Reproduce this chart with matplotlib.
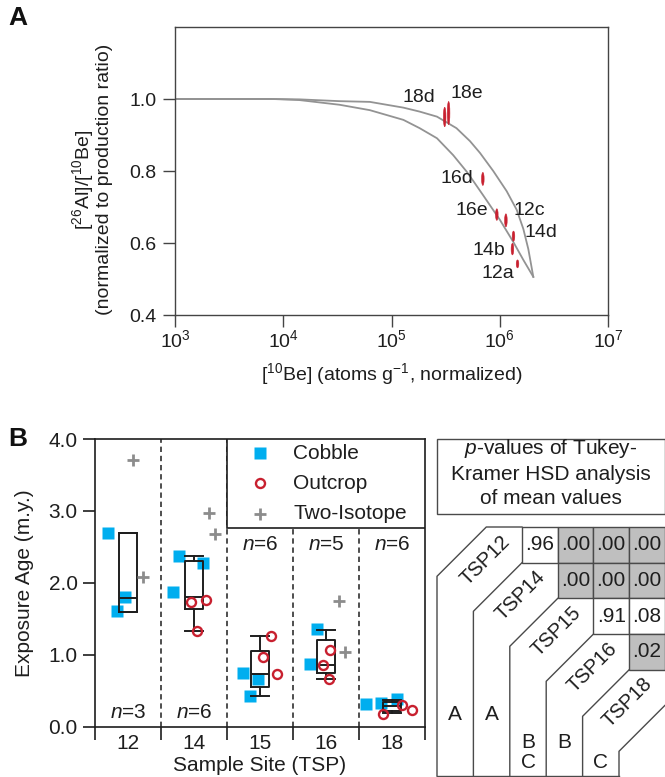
import numpy as np
import matplotlib
matplotlib.use("Agg")
import matplotlib.pyplot as plt
from matplotlib.patches import Ellipse, Rectangle
from matplotlib.ticker import FixedLocator, NullLocator

plt.rcParams["font.family"] = ["Liberation Sans", "DejaVu Sans"]
plt.rcParams["mathtext.fontset"] = "custom"
plt.rcParams["mathtext.rm"] = "Liberation Sans"
plt.rcParams["mathtext.it"] = "Liberation Sans:italic"
plt.rcParams["mathtext.bf"] = "Liberation Sans:bold"

# ---- Panel A: two-isotope plot ----
# log10 of normalized [10Be] and normalized [26Al]/[10Be] along the two gray curves
upper_logbe = [3.0, 3.90, 4.15, 4.52, 4.80, 5.11, 5.26, 5.42, 5.60, 5.725, 5.818, 5.94, 6.064, 6.157, 6.218, 6.264, 6.31]
upper_ratio = [1.0, 1.0, 0.999, 0.994, 0.992, 0.976, 0.965, 0.951, 0.919, 0.883, 0.850, 0.800, 0.744, 0.692, 0.639, 0.583, 0.506]
lower_logbe = [3.0, 3.90, 4.15, 4.52, 4.80, 5.11, 5.26, 5.42, 5.57, 5.695, 5.756, 5.848, 6.002, 6.125, 6.218, 6.31]
lower_ratio = [1.0, 1.0, 0.997, 0.984, 0.969, 0.942, 0.919, 0.891, 0.844, 0.798, 0.772, 0.732, 0.664, 0.603, 0.553, 0.506]

sample_names = ["18d", "18e", "16d", "16e", "12c", "14d", "14b", "12a"]
sample_be = [3.10e5, 3.37e5, 6.98e5, 9.40e5, 1.14e6, 1.34e6, 1.31e6, 1.46e6]
sample_ratio = [0.950, 0.961, 0.778, 0.679, 0.663, 0.619, 0.583, 0.542]
sample_err = [0.027, 0.032, 0.018, 0.016, 0.018, 0.014, 0.016, 0.011]
# where each sample name sits
label_be = [1.79e5, 4.98e5, 4.03e5, 5.54e5, 1.86e6, 2.40e6, 7.96e5, 9.65e5]
label_ratio = [1.003, 1.014, 0.778, 0.689, 0.689, 0.628, 0.578, 0.514]

# ---- Panel B: exposure ages (m.y.) by sample site ----
sites = ["12", "14", "15", "16", "18"]
site_n = [3, 6, 6, 5, 6]

cobble_site = [0, 0, 0, 1, 1, 1, 2, 2, 2, 3, 3, 4, 4, 4]
cobble_dx = [-0.31, -0.17, -0.05, -0.32, -0.23, 0.14, -0.26, -0.15, -0.03, -0.25, -0.14, -0.40, -0.17, 0.07]
cobble_age = [2.70, 1.61, 1.81, 1.87, 2.37, 2.28, 0.75, 0.43, 0.66, 0.87, 1.36, 0.32, 0.34, 0.39]

outcrop_site = [1, 1, 1, 2, 2, 2, 3, 3, 3, 4, 4, 4]
outcrop_dx = [-0.05, 0.18, 0.05, 0.04, 0.16, 0.25, 0.06, -0.05, 0.05, -0.13, 0.15, 0.31]
outcrop_age = [1.74, 1.77, 1.34, 0.97, 1.27, 0.74, 1.07, 0.86, 0.66, 0.18, 0.30, 0.24]

iso_site = [0, 0, 1, 1, 3, 3]
iso_dx = [0.08, 0.22, 0.23, 0.32, 0.20, 0.29]
iso_age = [3.71, 2.09, 2.97, 2.68, 1.75, 1.04]

box_q1 = [1.60, 1.64, 0.56, 0.75, 0.22]
box_med = [1.79, 1.81, 0.73, 0.86, 0.29]
box_q3 = [2.70, 2.30, 1.05, 1.21, 0.35]
box_lo = [1.60, 1.34, 0.43, 0.66, 0.19]
box_hi = [2.70, 2.38, 1.26, 1.35, 0.37]

# ---- Tukey-Kramer HSD p-values ----
table_sites = ["TSP12", "TSP14", "TSP15", "TSP16", "TSP18"]
pvals = [[0.96, 0.00, 0.00, 0.00],
         [0.00, 0.00, 0.00],
         [0.91, 0.08],
         [0.02]]
groups = [["A"], ["A"], ["B", "C"], ["B"], ["C"]]

CYAN = "#00aeef"
RED = "#c8202f"
GRAY = "#8c8c8c"
INK = "#1e1e1e"

W, H = 665, 777
fig = plt.figure(figsize=(W / 100, H / 100), dpi=100)


def add_px_axes(left, top, right, bottom):
    return fig.add_axes([left / W, 1 - bottom / H, (right - left) / W, (bottom - top) / H])


# ================= Panel A =================
axA = add_px_axes(175, 27, 608, 315)
axA.plot(10 ** np.array(upper_logbe), upper_ratio, color="#939393", lw=1.3)
axA.plot(10 ** np.array(lower_logbe), lower_ratio, color="#939393", lw=1.3)
for be, r, e in zip(sample_be, sample_ratio, sample_err):
    axA.add_patch(Ellipse((be, r), be * 0.055, 2 * e, fc=RED, ec=RED, lw=0.4, zorder=3))
for name, lx, ly in zip(sample_names, label_be, label_ratio):
    axA.text(lx, ly, name, ha="center", va="center", fontsize=14, color=INK)

axA.set_xscale("log")
axA.set_xlim(1e3, 1e7)
axA.set_ylim(0.4, 1.2)
axA.xaxis.set_major_locator(FixedLocator([1e3, 1e4, 1e5, 1e6, 1e7]))
axA.xaxis.set_minor_locator(NullLocator())
axA.set_xticklabels([r"10$^{3}$", r"10$^{4}$", r"10$^{5}$", r"10$^{6}$", r"10$^{7}$"])
axA.set_yticks([0.4, 0.6, 0.8, 1.0])
axA.set_yticklabels(["0.4", "0.6", "0.8", "1.0"])
axA.tick_params(direction="out", length=8.5, width=1, pad=5, labelsize=14,
                color="#444444", labelcolor=INK)
axA.tick_params(axis="x", pad=2)
for s in axA.spines.values():
    s.set_color("#444444")
    s.set_linewidth(1)
axA.set_xlabel(r"[$^{10}$Be] (atoms g$^{-1}$, normalized)", fontsize=14, color=INK)
axA.xaxis.set_label_coords(0.5, -0.16)
axA.set_ylabel(r"[$^{26}$Al]/[$^{10}$Be]" + "\n" + "(normalized to production ratio)",
               fontsize=14, color=INK, linespacing=1.0)
axA.yaxis.set_label_coords(-0.143, 0.47)

# ================= Panel B =================
axB = add_px_axes(95, 439, 425, 727)
centers = np.arange(len(sites)) + 0.5

for xb in range(1, len(sites)):
    axB.axvline(xb, color=INK, lw=1.1, ls=(0, (3.5, 2.5)), zorder=1)

axB.plot(np.array(cobble_site) + 0.5 + np.array(cobble_dx), cobble_age, "s",
         ms=8.5, color=CYAN, mec="none", zorder=2)

stats = []
for q1, med, q3, lo, hi in zip(box_q1, box_med, box_q3, box_lo, box_hi):
    stats.append(dict(q1=q1, med=med, q3=q3, whislo=lo, whishi=hi, fliers=[]))
line_kw = dict(color=INK, lw=1.4)
axB.bxp(stats, positions=centers, widths=0.27, capwidths=0.27, showfliers=False,
        boxprops=line_kw, whiskerprops=line_kw, capprops=line_kw, medianprops=line_kw,
        manage_ticks=False, zorder=3)

axB.plot(np.array(outcrop_site) + 0.5 + np.array(outcrop_dx), outcrop_age, "o",
         ms=6.5, mfc="none", mec=RED, mew=1.7, zorder=4)
axB.plot(np.array(iso_site) + 0.5 + np.array(iso_dx), iso_age, "+",
         ms=8.5, mec=GRAY, mew=2, zorder=4)

for i, n in enumerate(site_n):
    ny = 0.20 if i < 2 else 2.54
    axB.text(centers[i], ny, "$n$=%d" % n, ha="center", va="center", fontsize=15, color=INK)

# legend box
axB.add_patch(Rectangle((2, 2.76), 3, 1.24, fc="white", ec=INK, lw=1.2, zorder=5))
axB.plot([2.5], [3.80], "s", ms=8.5, color=CYAN, mec="none", zorder=6)
axB.plot([2.5], [3.385], "o", ms=6.5, mfc="none", mec=RED, mew=1.7, zorder=6)
axB.plot([2.5], [2.96], "+", ms=8.5, mec=GRAY, mew=2, zorder=6)
for ty, txt in zip([3.80, 3.385, 2.96], ["Cobble", "Outcrop", "Two-Isotope"]):
    axB.text(3.0, ty, txt, va="center", ha="left", fontsize=15, color=INK, zorder=6)

axB.set_xlim(0, 5)
axB.set_ylim(0, 4)
axB.set_xticks(range(len(sites) + 1))
axB.set_xticklabels([])
axB.set_xticks(centers, minor=True)
axB.set_xticklabels(sites, minor=True)
axB.set_yticks([0, 1, 2, 3, 4])
axB.set_yticklabels(["0.0", "1.0", "2.0", "3.0", "4.0"])
axB.tick_params(axis="x", which="major", direction="out", length=9, width=1.2, color=INK)
axB.tick_params(axis="x", which="minor", length=0, pad=5, labelsize=15, labelcolor=INK)
axB.tick_params(axis="y", direction="out", length=8.6, width=1.2, pad=4, labelsize=15,
                color=INK, labelcolor=INK)
for s in axB.spines.values():
    s.set_color(INK)
    s.set_linewidth(1.2)
axB.set_xlabel("Sample Site (TSP)", fontsize=15, color=INK)
axB.xaxis.set_label_coords(0.5, -0.1)
axB.set_ylabel("Exposure Age (m.y.)", fontsize=15, color=INK)
axB.yaxis.set_label_coords(-0.185, 0.5)

# ================= Table and panel letters (pixel coordinates) =================
axT = fig.add_axes([0, 0, 1, 1])
axT.set_xlim(0, W)
axT.set_ylim(H, 0)
axT.axis("off")
axT.patch.set_alpha(0)

axT.text(18, 18, "A", fontsize=19, fontweight="bold", ha="center", va="center", color="#111111")
axT.text(18, 439, "B", fontsize=19, fontweight="bold", ha="center", va="center", color="#111111")

EDGE = "#4a4a4a"
axT.add_patch(Rectangle((437, 439), 227.5, 75, fc="white", ec=EDGE, lw=1))
for ty, txt in zip([449, 474, 498], ["$p$-values of Tukey-", "Kramer HSD analysis", "of mean values"]):
    axT.text(551, ty, txt, ha="center", va="center", fontsize=15, color=INK)

u = 35.7
c0, r0 = 522, 527
band_x0, band_step = 437, 36.4
bottom = 776
nb = len(table_sites)
xs = [band_x0 + band_step * k for k in range(nb + 1)]

# cells
for i, row in enumerate(pvals):
    for jj, p in enumerate(row):
        j = i + jj
        fc = "#bfbfbf" if p < 0.05 else "white"
        axT.add_patch(Rectangle((c0 + u * j, r0 + u * i), u, u, fc=fc, ec=EDGE, lw=1))
        axT.text(c0 + u * (j + 0.5), r0 + u * (i + 0.5), ("%.2f" % p)[1:],
                 ha="center", va="center", fontsize=15, color=INK)

# staircase bands
for k, xk in enumerate(xs):
    if k == 0:
        ex, ey = c0 - u, r0
    else:
        ex, ey = c0 + u * (k - 1), r0 + u * k
    ys = ey + (ex - xk)
    px = [xk, xk, ex]
    py = [bottom, ys, ey]
    if k == 0:
        px.append(c0)
        py.append(r0)
    axT.plot(px, py, color=EDGE, lw=1)
axT.plot([xs[0], xs[-1]], [bottom, bottom], color=EDGE, lw=1)

for k, name in enumerate(table_sites):
    axT.text(c0 - 37 + u * k, r0 + 33 + u * k, name, rotation=45, rotation_mode="anchor",
             ha="center", va="center", fontsize=14.5, color=INK)
    xc = (xs[k] + xs[k + 1]) / 2
    for letter in groups[k]:
        ly = {"A": 715, "B": 742, "C": 762}[letter]
        axT.text(xc, ly, letter, ha="center", va="center", fontsize=15, color=INK)

fig.savefig("out.png", dpi=100)
